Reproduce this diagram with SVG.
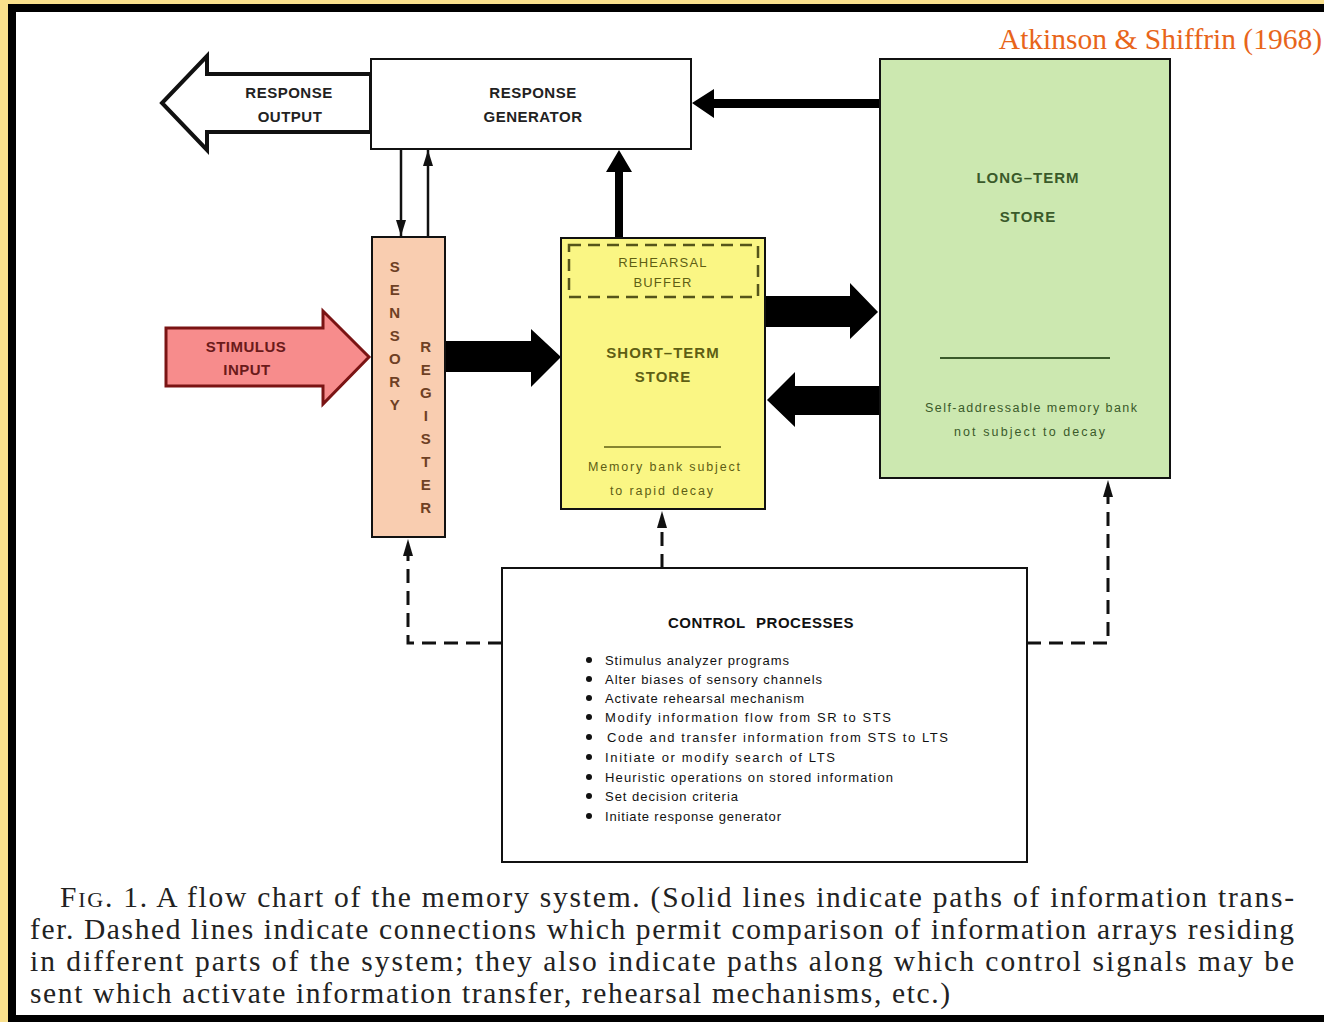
<svg xmlns="http://www.w3.org/2000/svg" width="1324" height="1022" viewBox="0 0 1324 1022">
<style>
.lbl{font-family:"Liberation Sans",Arial,sans-serif;font-size:15px;font-weight:bold;text-anchor:middle;letter-spacing:0.5px}
.box{stroke:#111;stroke-width:2}
.small{font-family:"Liberation Sans",Arial,sans-serif;font-size:12.5px}
.item{font-family:"Liberation Sans",Arial,sans-serif;font-size:13px;fill:#111}
.cap{font-family:"Liberation Serif","Times New Roman",serif;font-size:29.5px;fill:#222}
.dash{fill:none;stroke:#111;stroke-width:3;stroke-dasharray:14 8}
.thin{fill:none;stroke:#111;stroke-width:2.5}
</style>
<defs>
<marker id="ahs" viewBox="0 0 16 10" refX="16" refY="5" markerWidth="16" markerHeight="10" markerUnits="userSpaceOnUse" orient="auto"><path d="M0,0 L16,5 L0,10 Z" fill="#111"/></marker>
</defs>
<rect x="0" y="0" width="1324" height="1022" fill="#F9E08C"/>
<rect x="8" y="4" width="1316" height="1018" fill="#000"/>
<rect x="16" y="12" width="1308" height="1003" fill="#fff"/>
<text x="1322" y="49" text-anchor="end" style="font-family:'Liberation Serif','Times New Roman',serif;font-size:29.5px;fill:#E8651A">Atkinson &amp; Shiffrin (1968)</text>

<g id="connectors">
<line class="thin" x1="401" y1="149" x2="401" y2="236" marker-end="url(#ahs)"/>
<line class="thin" x1="428" y1="237" x2="428" y2="150" marker-end="url(#ahs)"/>
<polygon points="445,341 531,341 531,329 561,357 531,387 531,372 445,372" fill="#000"/>
<polygon points="615,238 615,172 606,172 619,150 632,172 623,172 623,238" fill="#000"/>
<polygon points="880,99 714,99 714,89 692,103 714,118 714,108 880,108" fill="#000"/>
<polygon points="765,296 850,296 850,283 878,312 850,339 850,327 765,327" fill="#000"/>
<polygon points="880,386 795,386 795,372 767,400 795,427 795,415 880,415" fill="#000"/>
<path class="dash" d="M502,643 H408 V556"/>
<polygon points="403,556 408,539 413,556" fill="#111"/>
<path class="dash" d="M662,568 V528"/>
<polygon points="657,528 662,511 667,528" fill="#111"/>
<path class="dash" d="M1027,643 H1108 V497"/>
<polygon points="1103,497 1108,480 1113,497" fill="#111"/>
</g>

<g id="response-output">
<polygon points="371,74 207,74 207,56 162,103 207,150 207,132 371,132" fill="#fff" stroke="#111" stroke-width="4" stroke-linejoin="miter"/>
<text class="lbl" x="289" y="98" fill="#222">RESPONSE</text>
<text class="lbl" x="290" y="122" fill="#222">OUTPUT</text>
</g>

<g id="response-generator">
<rect class="box" x="371" y="59" width="320" height="90" fill="#fff"/>
<text class="lbl" x="533" y="98" fill="#222">RESPONSE</text>
<text class="lbl" x="533" y="122" fill="#222">GENERATOR</text>
</g>

<g id="stimulus-input">
<polygon points="166,328 323,328 323,311 369,357 323,404 323,386 166,386" fill="#F78C8C" stroke="#7A1414" stroke-width="3"/>
<text class="lbl" x="246" y="352" fill="#6A1A1A">STIMULUS</text>
<text class="lbl" x="247" y="375" fill="#6A1A1A">INPUT</text>
</g>

<g id="sensory-register">
<rect class="box" x="372" y="237" width="73" height="300" fill="#F9CDB0"/>
<g class="lbl" fill="#6E4024">
<text x="395" y="272">S</text><text x="395" y="295">E</text><text x="395" y="318">N</text><text x="395" y="341">S</text><text x="395" y="364">O</text><text x="395" y="387">R</text><text x="395" y="410">Y</text>
<text x="426" y="352">R</text><text x="426" y="375">E</text><text x="426" y="398">G</text><text x="426" y="421">I</text><text x="426" y="444">S</text><text x="426" y="467">T</text><text x="426" y="490">E</text><text x="426" y="513">R</text>
</g>
</g>

<g id="short-term-store">
<rect class="box" x="561" y="238" width="204" height="271" fill="#FAF684"/>
<rect x="569" y="245" width="189" height="52" fill="none" stroke="#55551a" stroke-width="2.5" stroke-dasharray="12 7"/>
<text class="lbl" x="663" y="267" style="font-size:13px;font-weight:normal;letter-spacing:1.2px" fill="#5E5E14">REHEARSAL</text>
<text class="lbl" x="663" y="287" style="font-size:13px;font-weight:normal;letter-spacing:1.2px" fill="#5E5E14">BUFFER</text>
<text class="lbl" x="663" y="358" style="letter-spacing:1px" fill="#5E5E14">SHORT–TERM</text>
<text class="lbl" x="663" y="382" style="letter-spacing:1px" fill="#5E5E14">STORE</text>
<line x1="604" y1="447" x2="721" y2="447" stroke="#5E5E14" stroke-width="1.5"/>
<text class="small" x="588" y="471" textLength="152" lengthAdjust="spacing" fill="#5E5E14">Memory bank subject</text>
<text class="small" x="610" y="495" textLength="103" lengthAdjust="spacing" fill="#5E5E14">to rapid decay</text>
</g>

<g id="long-term-store">
<rect class="box" x="880" y="59" width="290" height="419" fill="#CCE8B0"/>
<text class="lbl" x="1028" y="183" style="letter-spacing:1px" fill="#3A5A2A">LONG–TERM</text>
<text class="lbl" x="1028" y="222" style="letter-spacing:1px" fill="#3A5A2A">STORE</text>
<line x1="940" y1="358" x2="1110" y2="358" stroke="#3A5A2A" stroke-width="2"/>
<text class="small" x="925" y="412" textLength="212" lengthAdjust="spacing" fill="#3A5A2A">Self-addressable memory bank</text>
<text class="small" x="954" y="436" textLength="151" lengthAdjust="spacing" fill="#3A5A2A">not subject to decay</text>
</g>

<g id="control-processes">
<rect class="box" x="502" y="568" width="525" height="294" fill="#fff"/>
<text class="lbl" x="761" y="628" style="font-size:15px;word-spacing:6px" fill="#111">CONTROL PROCESSES</text>
<g fill="#111">
<circle cx="589" cy="660" r="3"/><circle cx="589" cy="679" r="3"/><circle cx="589" cy="698" r="3"/><circle cx="589" cy="717" r="3"/><circle cx="589" cy="737" r="3"/><circle cx="589" cy="757" r="3"/><circle cx="589" cy="777" r="3"/><circle cx="589" cy="796" r="3"/><circle cx="589" cy="816" r="3"/>
</g>
<text class="item" x="605" y="665" textLength="184" lengthAdjust="spacing">Stimulus analyzer programs</text>
<text class="item" x="605" y="684" textLength="217" lengthAdjust="spacing">Alter biases of sensory channels</text>
<text class="item" x="605" y="703" textLength="199" lengthAdjust="spacing">Activate rehearsal mechanism</text>
<text class="item" x="605" y="722" textLength="286" lengthAdjust="spacing">Modify information flow from SR to STS</text>
<text class="item" x="607" y="742" textLength="341" lengthAdjust="spacing">Code and transfer information from STS to LTS</text>
<text class="item" x="605" y="762" textLength="230" lengthAdjust="spacing">Initiate or modify search of LTS</text>
<text class="item" x="605" y="782" textLength="288" lengthAdjust="spacing">Heuristic operations on stored information</text>
<text class="item" x="605" y="801" textLength="133" lengthAdjust="spacing">Set decision criteria</text>
<text class="item" x="605" y="821" textLength="176" lengthAdjust="spacing">Initiate response generator</text>
</g>

<g id="caption">
<text class="cap" x="60" y="907" textLength="1234" lengthAdjust="spacing">F<tspan style="font-size:22px">IG</tspan>. 1.  A flow chart of the memory system.  (Solid lines indicate paths of information trans-</text>
<text class="cap" x="30" y="939" textLength="1264" lengthAdjust="spacing">fer.  Dashed lines indicate connections which permit comparison of information arrays residing</text>
<text class="cap" x="30" y="971" textLength="1264" lengthAdjust="spacing">in different parts of the system; they also indicate paths along which control signals may be</text>
<text class="cap" x="30" y="1003" textLength="920" lengthAdjust="spacing">sent which activate information transfer, rehearsal mechanisms, etc.)</text>
</g>
</svg>
